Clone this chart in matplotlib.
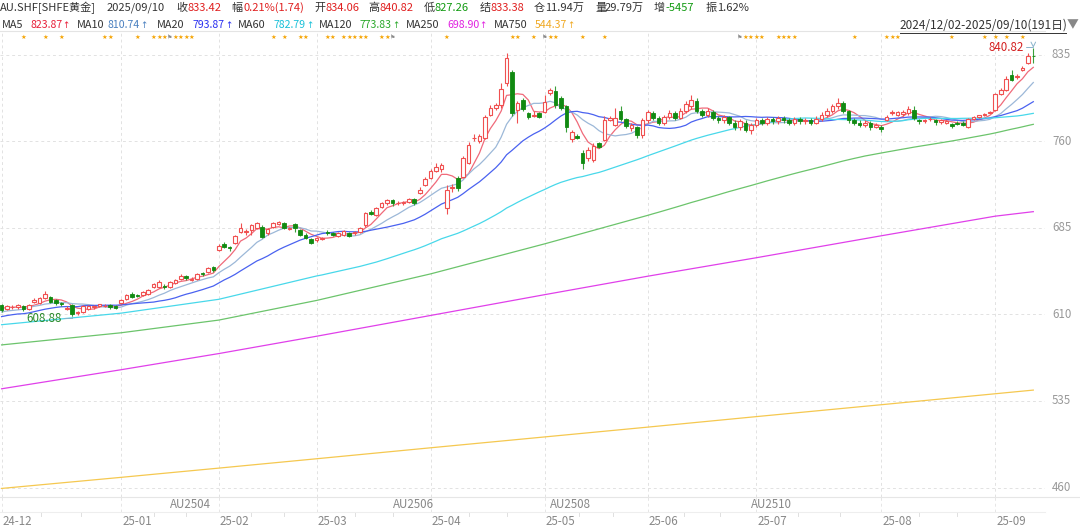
import matplotlib
matplotlib.use('Agg')
import matplotlib.pyplot as plt
from matplotlib.transforms import blended_transform_factory
import numpy as np
import pandas as pd

plt.rcParams['font.family'] = ['Noto Sans CJK SC', 'DejaVu Sans']

# ---------------- data ----------------
opens = [618, 615, 616, 616, 617, 615, 621, 620, 624, 625, 622, 620, 615, 618, 611, 612, 615, 616, 617, 617, 618, 617,
         620, 623, 628, 627, 627, 628, 634, 634, 634.5, 634, 637, 641, 643, 640, 641, 646, 647, 651,
         666, 671, 668, 672, 681, 681, 683, 685, 686, 680, 686, 688, 689, 684, 688, 683, 679, 675,
         674, 675.5, 681, 680, 678, 679, 680, 680, 681, 687, 699, 696, 703, 706, 709, 706, 706, 707, 710, 715, 722,
         728, 734, 736, 702, 719.5, 728, 729, 741, 762.5, 760, 763, 783, 789, 791, 810, 820, 787, 796, 784, 782, 784,
         785, 802, 803, 797, 790, 762, 764, 750, 745, 744, 758, 761, 778, 774, 786, 779, 771, 772,
         765, 778, 784, 780, 776, 781, 784, 780, 786, 790, 795, 786, 783, 785, 780, 778, 781, 776, 772, 776, 770,
         774, 778, 776, 779, 777, 780, 778, 776, 779, 777, 778, 776, 779, 783, 786, 790, 793, 786, 778, 776, 774, 776, 772,
         772.5, 778, 784.5, 783, 783.5, 784, 787, 778, 777.5, 778.8, 778, 776.5, 776, 775, 776, 776, 772, 779, 781, 782.5, 784.5,
         787, 801, 804, 817, 815.5, 822, 828, 834.06]
closes = [614, 617, 616.5, 618, 615, 618, 622, 624, 628, 621, 620, 619, 615.5, 610, 612, 617, 617, 617, 618.5, 617.5, 616, 615.5,
          622, 627, 625, 626, 629, 631, 636, 638, 633.5, 638, 640, 643, 641.5, 641, 645, 644.5, 650, 648,
          669, 668, 667, 678, 685, 682, 687, 689, 677, 684, 689, 690, 685, 684.5, 685, 679, 676, 672,
          676, 676, 680, 679, 680, 682, 678, 681, 685, 698, 697, 702, 706, 709, 706, 706.5, 707, 710, 706, 718, 727,
          734, 738, 739, 718, 720, 719, 745, 757, 763, 764, 781, 789, 791, 805, 832, 784, 793, 788, 781, 783, 781,
          794, 804, 791, 789, 772, 768, 763, 741, 752, 756, 755, 778, 780, 780, 779, 773, 774, 765,
          778, 785, 780, 776, 781, 784, 780, 786, 792, 796, 786, 783, 786, 780, 778, 781, 776, 772, 777, 770, 774,
          778, 776, 779, 777, 780, 778, 776, 779, 777, 778, 776, 779, 783, 786, 790, 793, 786, 778, 776, 774, 776, 772, 774,
          770.5, 781, 785, 785, 785.5, 788, 780, 777, 778, 779.2, 776.5, 778, 777, 773, 775, 774, 779, 781, 782.5, 783.5, 785.5,
          801, 804, 814, 813, 816, 823, 834, 833.42]
highs = [619, 618, 618, 619, 618, 619, 624, 625, 630, 626, 623, 621, 617, 619, 613, 618, 618, 618, 619, 619, 619, 618,
         623, 628, 629, 628, 630, 632, 637, 640, 636, 639, 641, 645, 644, 642, 646, 647, 651, 652,
         671, 673, 669, 679, 689, 684, 688, 690, 687, 685, 690, 691, 690, 686, 689, 684, 680, 676,
         677, 677, 683, 681, 681, 683, 681, 682, 686, 699, 700, 703, 707, 710, 710, 708, 708, 711, 711, 720, 729,
         736, 741, 741, 722, 723, 730, 747, 759, 766, 766, 783, 791, 793, 810, 836, 822, 795, 797, 785, 786, 785,
         800, 806, 808, 799, 791, 770, 766, 752, 755, 758, 759, 782, 782, 789, 790, 780, 776, 773,
         780, 787, 786, 782, 783, 787, 786, 789, 795, 800, 797, 788, 789, 787, 782, 783, 782, 778, 779, 778, 776,
         780, 780, 781, 781, 782, 782, 780, 781, 781, 780, 780, 782, 785, 789, 792, 797, 795, 787, 780, 778, 778, 777, 776,
         774, 783, 787, 786, 787, 790, 790, 779, 779.5, 781, 779, 779, 778, 776, 777, 777, 780, 782, 783, 784, 786.5,
         802, 806, 816, 822, 818, 825, 836, 840.82]
lows = [612, 614, 615, 615, 613, 614, 620, 619, 623, 620, 618, 617, 614, 608.88, 609.5, 611, 614, 615, 616, 616, 615, 614.5,
        619, 622, 624, 625, 626, 627, 633, 633, 632, 633, 636, 640, 640, 639, 640, 643, 646, 647,
        665, 667, 665, 671, 680, 679, 679, 684, 676, 679, 685, 687, 684, 683, 681, 678, 675, 671,
        673, 674, 679, 678, 677, 678, 677, 679, 680, 686, 696, 695, 702, 705, 704, 705, 705, 706, 705, 714, 721,
        727, 733, 733, 697, 716, 717, 728, 740, 760, 758, 762, 782, 787, 789, 808, 782, 776, 786, 779, 781, 780,
        784, 800, 789, 787, 768, 759, 762, 736, 743, 742, 754, 760, 777, 773, 777, 771, 769, 763,
        763, 776, 778, 774, 774, 779, 778, 779, 784, 788, 784, 781, 781, 778, 776, 776, 774, 770, 770, 768, 766,
        772, 774, 774, 775, 775, 776, 774, 774, 775, 775, 774, 775, 777, 781, 784, 788, 784, 776, 774, 772, 772, 770, 771,
        768, 777, 783, 782, 782, 783, 778, 775, 776, 777, 774, 775, 774.5, 771, 774, 773, 771, 778, 780, 782, 784,
        786, 800, 803, 812, 814, 821, 827, 827.26]
# closes before the window (for the short moving averages)
prior_closes = [598, 602, 606, 610, 604, 600, 603, 607, 605, 605, 608, 612, 613, 610, 602, 612, 616, 617, 616]

ma60_read_idx = [0, 22, 40, 58]
ma60_read = [601, 611, 623, 643.2]
ma120_read_idx = [0, 22, 40, 58, 79, 100]
ma120_read = [583.5, 594, 605, 622, 645, 671]
long_ma_idx = [0, 22, 40, 58, 79, 100, 119, 139, 162, 183, 190]
ma250 = [545.5, 562, 576, 591, 609, 627, 643, 659, 678, 695, 698.9]
ma750 = [459.2, 468.8, 476.8, 484.9, 494.4, 503.8, 512.3, 521.4, 531.7, 541.2, 544.37]

month_labels = ['24-12', '25-01', '25-02', '25-03', '25-04', '25-05', '25-06', '25-07', '25-08', '25-09']
month_idx = [0, 22, 40, 58, 79, 100, 119, 139, 162, 183]
contract_labels = ['AU2504', 'AU2506', 'AU2508', 'AU2510']
contract_idx = [31, 72, 101, 138]
y_ticks = [460, 535, 610, 685, 760, 835]
star_idx = [4, 8, 11, 19, 20, 25, 28, 29, 30, 32, 33, 34, 35, 50, 52, 55, 56, 60, 61, 63, 64, 65, 66, 67, 70, 71,
            82, 94, 95, 98, 101, 102, 107, 111, 137, 138, 139, 140, 143, 144, 145, 146, 157, 163, 164, 165,
            175, 181, 183, 185, 188]
flag_idx = [31, 72, 100, 136]

ma_last = {'MA5': 823.87, 'MA10': 810.74, 'MA20': 793.87, 'MA60': 782.79, 'MA120': 773.83,
           'MA250': 698.90, 'MA750': 544.37}

# ---------------- colours ----------------
RED = '#f05050'
GREEN = '#118a11'
C_MA = {'MA5': '#f06a7a', 'MA10': '#9cb8d8', 'MA20': '#4a62f0', 'MA60': '#48d8ea',
        'MA120': '#6cc46c', 'MA250': '#e040ea', 'MA750': '#f5c850'}
C_VAL = {'MA5': '#e8203a', 'MA10': '#4a80c0', 'MA20': '#2a30f0', 'MA60': '#18c0d8',
         'MA120': '#2aa82a', 'MA250': '#e020e0', 'MA750': '#f0a820'}
DARK = '#333333'
GRAY = '#999999'

W, H = 1080, 529
fig = plt.figure(figsize=(W / 100, H / 100), dpi=100)
fig.patch.set_facecolor('white')

TOP, BOT, RIGHT = 31, 497, 1045
ax = fig.add_axes([0, 1 - BOT / H, RIGHT / W, (BOT - TOP) / H])
px_per_c = 5.43
x0 = 1.6
ax.set_xlim(-x0 / px_per_c, (RIGHT - x0) / px_per_c)
ppu = 1.1547
ax.set_ylim(835 - (BOT - 54.5) / ppu, 835 + (54.5 - TOP) / ppu)
for s in ['left', 'right', 'bottom']:
    ax.spines[s].set_visible(False)
ax.spines['top'].set_color('#e4e4e4')
ax.spines['top'].set_linewidth(0.8)
ax.set_xticks([])
ax.set_yticks([])

# grid
for v in y_ticks:
    ax.axhline(v, color='#e2e2e2', lw=0.7, ls=(0, (3, 3)), zorder=0)
for i in month_idx:
    ax.axvline(i, color='#e2e2e2', lw=0.7, ls=(0, (3, 3)), zorder=0)

n = len(closes)
idx = np.arange(n)
o = np.array(opens, float); c = np.array(closes, float)
h = np.array(highs, float); l = np.array(lows, float)

# moving averages
allc = pd.Series(list(prior_closes) + list(closes))
np_ = len(prior_closes)
for name, win in [('MA5', 5), ('MA10', 10), ('MA20', 20)]:
    m = allc.rolling(win).mean().values[np_:]
    ax.plot(idx, m, color=C_MA[name], lw=0.9, zorder=3)
cs = pd.Series(closes)
m60 = cs.rolling(60).mean().values
m120 = cs.rolling(120).mean().values
ax.plot(list(ma60_read_idx) + list(idx[59:]), list(ma60_read) + list(m60[59:]), color=C_MA['MA60'], lw=0.9, zorder=3)
ax.plot(list(ma120_read_idx) + list(idx[119:]), list(ma120_read) + list(m120[119:]), color=C_MA['MA120'], lw=0.9, zorder=3)
ax.plot(long_ma_idx, ma250, color=C_MA['MA250'], lw=0.9, zorder=3)
ax.plot(long_ma_idx, ma750, color=C_MA['MA750'], lw=0.9, zorder=3)

# candles
bw = 0.66
up = c >= o
ax.vlines(idx[up], l[up], np.minimum(o, c)[up], color=RED, lw=0.8, zorder=4)
ax.vlines(idx[up], np.maximum(o, c)[up], h[up], color=RED, lw=0.8, zorder=4)
ax.vlines(idx[~up], l[~up], h[~up], color='#3aa03a', lw=0.8, zorder=4)
body = np.maximum(np.abs(c - o), 0.35)
ax.bar(idx[up], body[up], bottom=np.minimum(o, c)[up], width=bw, facecolor='white',
       edgecolor=RED, linewidth=0.8, zorder=5)
ax.bar(idx[~up], body[~up], bottom=np.minimum(o, c)[~up], width=bw, facecolor=GREEN,
       edgecolor=GREEN, linewidth=0.6, zorder=5)

# high / low annotations
imax = int(np.argmax(h)); imin = int(np.argmin(l))
ax.annotate(f'{h[imax]:.2f}', xy=(imax, h[imax]), xytext=(imax - 1.8, h[imax] + 0.5),
            ha='right', va='center', color='#d42020', fontsize=8.3,
            arrowprops=dict(arrowstyle='->', color='#8ab4cc', lw=0.7,
                            connectionstyle='angle,angleA=0,angleB=90,rad=0', shrinkA=0, shrinkB=0))
ax.annotate(f'{l[imin]:.2f}', xy=(imin, l[imin]), xytext=(imin - 2.0, l[imin] - 2.2),
            ha='right', va='center', color='#2a8a2a', fontsize=8.3,
            arrowprops=dict(arrowstyle='-', color='#8ab4cc', lw=0.7,
                            connectionstyle='angle,angleA=0,angleB=90,rad=0', shrinkA=0, shrinkB=0))

# stars row
btr = blended_transform_factory(ax.transData, ax.transAxes)
ys = (BOT - 37) / (BOT - TOP)
for i in star_idx:
    ax.text(i, ys, '★', color='#f5a300', fontsize=4.6, ha='center', va='center', transform=btr,
            family=['DejaVu Sans'], zorder=6)
for i in flag_idx:
    ax.text(i, ys, '⚑', color='#8a8a8a', fontsize=4.4, ha='center', va='center', transform=btr,
            family=['DejaVu Sans'], zorder=7)

# right axis labels
for v in y_ticks:
    fig.text(1052 / W, ax.transData.transform((0, v))[1] / H, str(v), color=GRAY, fontsize=8.3,
             ha='left', va='center')

# bottom rows
bft = blended_transform_factory(ax.transData, fig.transFigure)
fig.add_artist(plt.Line2D([0, 1], [1 - 497 / H, 1 - 497 / H], color='#e6e6e6', lw=0.8, transform=fig.transFigure))
fig.add_artist(plt.Line2D([0, RIGHT / W], [1 - 512 / H, 1 - 512 / H], color='#eeeeee', lw=0.8, transform=fig.transFigure))
month_bounds = list(month_idx) + [n]
for k, (i, lab) in enumerate(zip(month_idx, month_labels)):
    ax.add_artist(plt.Line2D([i, i], [1 - 512 / H, 1 - 497 / H], color='#e6e6e6', lw=0.7,
                             ls=(0, (3, 3)), transform=bft, clip_on=False))
    ax.text(i + 0.2, 1 - 521.5 / H, lab, transform=bft, color='#888888', fontsize=8.3,
            ha='left', va='center', clip_on=False)
    if k < len(month_idx) - 1:
        span = month_bounds[k + 1] - i
        for f in (1 / 3, 2 / 3):
            xt = i + span * f
            ax.add_artist(plt.Line2D([xt, xt], [1 - 516 / H, 1 - 512 / H], color='#e0e0e0', lw=0.7,
                                     transform=bft, clip_on=False))
for i, lab in zip(contract_idx, contract_labels):
    ax.text(i, 1 - 505 / H, lab, transform=bft, color='#888888', fontsize=8.3,
            ha='left', va='center', clip_on=False)

# header
def ft(xp, yp, s, col=DARK, size=8.0, **kw):
    return fig.text(xp / W, 1 - yp / H, s, color=col, fontsize=size, ha='left', va='center', **kw)

RD, GN = '#e02020', '#109a10'
row1 = [(0, 'AU.SHF[SHFE黄金]', DARK), (106.7, '2025/09/10', DARK), (176.6, '收', DARK), (187.7, '833.42', RD),
        (231, '幅', DARK), (243, '0.21%(1.74)', RD), (314, '开', DARK), (325, '834.06', RD),
        (368.5, '高', DARK), (379, '840.82', RD), (424, '低', DARK), (434.6, '827.26', GN),
        (479.7, '结', DARK), (490.7, '833.38', RD), (533.7, '仓', DARK), (545.5, '11.94万', DARK),
        (595, '量', DARK), (605, '29.79万', DARK), (653.6, '增', DARK), (665.7, '-5457', GN),
        (706, '振', DARK), (717, '1.62%', DARK)]
for xp, s, col in row1:
    ft(xp, 8, s, col)

renderer = fig.canvas.get_renderer()
row2 = [(1.7, 30.3, 'MA5'), (76.4, 107.4, 'MA10'), (156.7, 192.8, 'MA20'), (237.6, 273.8, 'MA60'),
        (318.5, 359.8, 'MA120'), (405.6, 447, 'MA250'), (494, 535, 'MA750')]
for xl, xv, name in row2:
    ft(xl, 25.5, name, DARK, size=7.8)
    tv = ft(xv, 25.5, f'{ma_last[name]:.2f}', C_VAL[name], size=7.6)
    xend = tv.get_window_extent(renderer).x1
    fig.text((xend + 0.3) / W, 1 - 25.5 / H, '↑', color=C_VAL[name], fontsize=6.3,
             ha='left', va='center', family=['DejaVu Sans'])

ft(899.5, 25.5, '2024/12/02-2025/09/10(191日)', DARK, size=8.5)
fig.add_artist(plt.Line2D([899.5 / W, 1066 / W], [1 - 33 / H, 1 - 33 / H], color=DARK, lw=0.7,
                          transform=fig.transFigure))
ft(1067, 24.5, '▼', '#888888', size=8.5)

fig.savefig('out.png', dpi=100, facecolor='white')
